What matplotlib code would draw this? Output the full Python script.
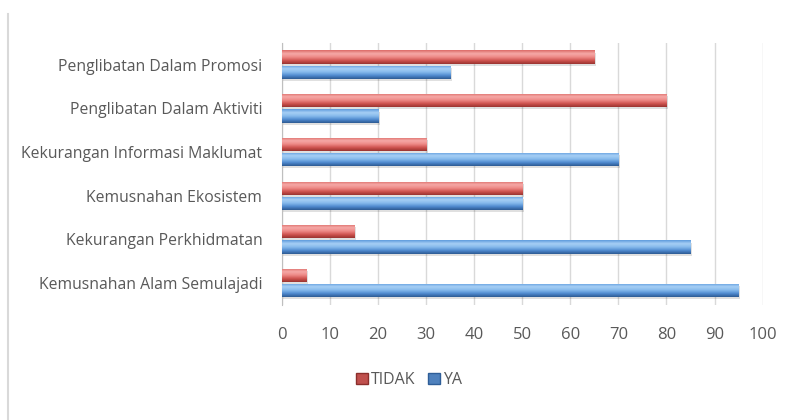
import matplotlib
matplotlib.use("Agg")
import matplotlib.pyplot as plt
import numpy as np
from matplotlib.colors import LinearSegmentedColormap
from matplotlib.patches import Patch
from matplotlib.lines import Line2D

plt.rcParams["font.family"] = ["Open Sans", "DejaVu Sans"]

# data (bottom -> top)
categories = ["Kemusnahan Alam Semulajadi", "Kekurangan Perkhidmatan",
              "Kemusnahan Ekosistem", "Kekurangan Informasi Maklumat",
              "Penglibatan Dalam Aktiviti", "Penglibatan Dalam Promosi"]
tidak = [5, 15, 50, 30, 80, 65]
ya = [95, 85, 50, 70, 20, 35]
series_names = ["TIDAK", "YA"]

RED = "#C0504D"
BLUE = "#4F81BD"
TXT = "#595959"

cm_red = LinearSegmentedColormap.from_list(
    "r", ["#9A3330", "#CF5450", "#EE8A87", "#F5A9A7", "#DC6A67"])
cm_blue = LinearSegmentedColormap.from_list(
    "b", ["#2D5A93", "#4F8ACF", "#86BAEC", "#A6CFF5", "#5E9BDD"])

fig = plt.figure(figsize=(7.87, 4.2), dpi=100)
ax = fig.add_axes([0.358, 0.274, 0.611, 0.624])

y = np.arange(len(categories))
h = 0.3
off = 0.175

grad = np.linspace(0, 1, 64).reshape(-1, 1)


def gradient_bars(ys, vals, cmap, base):
    bars = ax.barh(ys, vals, height=h, color=base, zorder=3)
    for b in bars:
        x0, y0 = b.get_x(), b.get_y()
        w, hh = b.get_width(), b.get_height()
        # soft shadow
        ax.barh(y0 + hh / 2 - 0.05, w + 0.4, left=x0, height=hh, color="#000000",
                alpha=0.12, zorder=2, linewidth=0)
        im = ax.imshow(grad, cmap=cmap, aspect="auto", interpolation="bilinear",
                       extent=(x0, x0 + w, y0, y0 + hh), origin="lower",
                       zorder=4)
        im.set_clip_path(b)
    return bars


gradient_bars(y + off, tidak, cm_red, RED)
gradient_bars(y - off, ya, cm_blue, BLUE)

ax.set_xlim(0, 100)
ax.set_ylim(-0.5, 5.5)
ax.set_xticks(np.arange(0, 101, 10))
ax.set_yticks(y)
ax.set_yticklabels(categories)
ax.grid(axis="x", color="#D9D9D9", linewidth=1, zorder=0)
ax.set_axisbelow(True)
for s in ["top", "right", "bottom"]:
    ax.spines[s].set_visible(False)
ax.spines["left"].set_color("#BFBFBF")
ax.tick_params(axis="both", length=0, labelcolor=TXT)
ax.tick_params(axis="y", pad=14, labelsize=11.3)
ax.tick_params(axis="x", pad=16, labelsize=12)

# chart frame line on the left
fig.add_artist(Line2D([8 / 787, 8 / 787], [0, 1 - 14 / 420],
                      transform=fig.transFigure, color="#D9D9D9", linewidth=1.5))

handles = [Patch(facecolor=RED, edgecolor="#8C2F2C"),
           Patch(facecolor=BLUE, edgecolor="#2F5E98")]
fig.legend(handles, series_names, loc="center", bbox_to_anchor=(0.52, 0.095),
           ncol=2, frameon=False, fontsize=11.5, labelcolor=TXT,
           handlelength=0.75, handleheight=0.75, handletextpad=0.2,
           columnspacing=0.8)

fig.savefig("out.png", dpi=100, facecolor="white")
